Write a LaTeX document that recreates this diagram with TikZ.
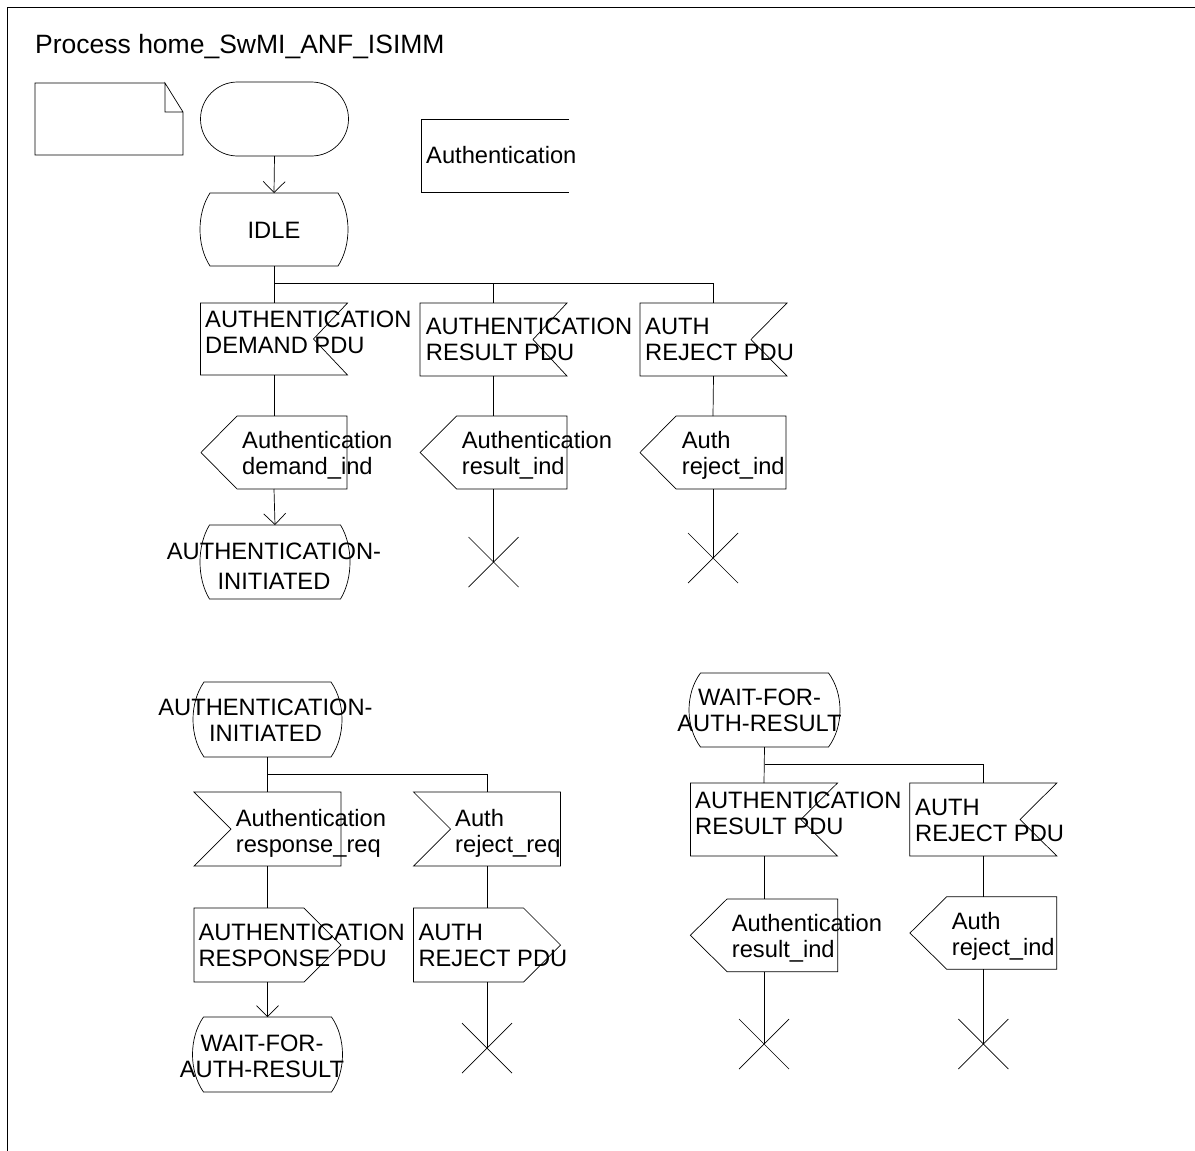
\documentclass[tikz,border=0pt]{standalone}
\usepackage{fontspec}
\setmainfont{Liberation Sans}
\usetikzlibrary{arrows.meta,calc}
\newcommand\sdlinR[2]{\draw[shp] (#1.north west) -- (#1.north east) -- ([xshift=-#2pt]#1.east) -- (#1.south east) -- (#1.south west) -- cycle;}
\newcommand\sdlinL[2]{\draw[shp] (#1.north east) -- (#1.north west) -- ([xshift=#2pt]#1.west) -- (#1.south west) -- (#1.south east) -- cycle;}
\newcommand\sdloutL[2]{\draw[shp] (#1.west) -- ([xshift=#2pt]#1.north west) -- (#1.north east) -- (#1.south east) -- ([xshift=#2pt]#1.south west) -- cycle;}
\newcommand\sdloutR[2]{\draw[shp] (#1.east) -- ([xshift=-#2pt]#1.north east) -- (#1.north west) -- (#1.south west) -- ([xshift=-#2pt]#1.south east) -- cycle;}
\newcommand\sdlstate[2]{\draw[shp] ([xshift=#2pt]#1.north west) -- ([xshift=-#2pt]#1.north east)
  .. controls ($(#1.north east)!0.28!(#1.south east)+(#2/3,0)$) and ($(#1.north east)!0.72!(#1.south east)+(#2/3,0)$) .. ([xshift=-#2pt]#1.south east)
  -- ([xshift=#2pt]#1.south west)
  .. controls ($(#1.north west)!0.72!(#1.south west)+(-#2/3,0)$) and ($(#1.north west)!0.28!(#1.south west)+(-#2/3,0)$) .. cycle;}
\newcommand\sdlstop[1]{\draw[shp] ([xshift=-25pt,yshift=25pt]#1) -- ([xshift=25pt,yshift=-25pt]#1) ([xshift=-25pt,yshift=-25pt]#1) -- ([xshift=25pt,yshift=25pt]#1);}
\begin{document}
\begin{tikzpicture}[x=1pt,y=-1pt,
  shp/.style={draw=black, line width=0.7pt},
  ln/.style={draw=black, line width=0.7pt},
  arr/.style={ln, -{Straight Barb[length=11pt,width=22pt]}},
  bx/.style={inner sep=0pt, outer sep=0pt},
  lbl/.style={font=\fontsize{23.7}{26}\selectfont, inner sep=0pt, align=left, anchor=west},
  slbl/.style={font=\fontsize{23.7}{26}\selectfont, inner sep=0pt, align=center, anchor=center}]
\useasboundingbox (0,0) rectangle (1195,1151);
% frame
\draw[line width=1.5pt] (1195,7.5) -- (7.5,7.5) -- (7.5,1151);
\node[lbl, font=\fontsize{26.5}{30}\selectfont] (title) at (35,47.5) {Process home\_SwMI\_ANF\_ISIMM\strut};
% comment symbol
\draw[shp] (165,83) -- (35,83) -- (35,155) -- (183,155) -- (183,112) -- (165,83) -- (165,112) -- (183,112);
% start
\node[bx, shp, minimum width=148, minimum height=74, rounded corners=37pt] (start) at (274.5,119) {};
% text extension box
\draw[shp] (569,119) -- (421,119) -- (421,192) -- (569,192);
\node[lbl] (authlbl) at (426,158.5) {Authentication\strut};
% IDLE
\node[bx, minimum width=148, minimum height=73] (idle) at (274,229.5) {};
\sdlstate{idle}{10}
\node[slbl] (idlelbl) at (274,233) {IDLE\strut};
\draw[arr] (start.south) -- (idle.north);
% top inputs
\node[bx, minimum width=147, minimum height=72] (in1) at (274,339) {};
\sdlinR{in1}{34}
\node[lbl] (in1lbl) at (205,335.5) {AUTHENTICATION\strut\\DEMAND PDU\strut};
\node[bx, minimum width=147, minimum height=73] (in2) at (493.5,339.5) {};
\sdlinR{in2}{34}
\node[lbl] (in2lbl) at (425.7,342) {AUTHENTICATION\strut\\RESULT PDU\strut};
\node[bx, minimum width=147, minimum height=73] (in3) at (713.5,339.5) {};
\sdlinR{in3}{36}
\node[lbl] (in3lbl) at (645,342.7) {AUTH\strut\\REJECT PDU\strut};
\coordinate (j1) at (274,283);
\draw[ln] (idle.south) -- (in1.north);
\draw[ln] (j1) -| (in2.north);
\draw[ln] (j1) -| (in3.north);
% top outputs
\node[bx, minimum width=146, minimum height=73] (out1) at (274,452.5) {};
\sdloutL{out1}{36}
\node[lbl] (out1lbl) at (242,456) {Authentication\strut\\demand\_ind\strut};
\node[bx, minimum width=147, minimum height=73] (out2) at (493.5,452.5) {};
\sdloutL{out2}{36.7}
\node[lbl] (out2lbl) at (461.7,456) {Authentication\strut\\result\_ind\strut};
\node[bx, minimum width=146, minimum height=73] (out3) at (713,452.5) {};
\sdloutL{out3}{36}
\node[lbl] (out3lbl) at (681.7,456) {Auth\strut\\reject\_ind\strut};
\draw[ln] (in1.south) -- (out1.north);
\draw[ln] (in2.south) -- (out2.north);
\draw[ln] (in3.south) -- (out3.north);
% state AUTHENTICATION-INITIATED (top)
\node[bx, minimum width=150, minimum height=74] (ai1) at (275,562) {};
\sdlstate{ai1}{9.5}
\node[slbl] (ai1lbl) at (274,569) {AUTHENTICATION-\strut\\[4pt]INITIATED\strut};
\draw[arr] (out1.south) -- (ai1.north);
% stops top
\coordinate (x1) at (493.5,562);
\coordinate (x2) at (713,558);
\draw[ln] (out2.south) -- (x1);
\draw[ln] (out3.south) -- (x2);
\sdlstop{x1}
\sdlstop{x2}
% ---------- lower left
\node[bx, minimum width=149, minimum height=75] (ai2) at (267.5,719.5) {};
\sdlstate{ai2}{11}
\node[slbl] (ai2lbl) at (265.5,723.3) {AUTHENTICATION-\strut\\INITIATED\strut};
\node[bx, minimum width=147, minimum height=74] (in4) at (267.5,829) {};
\sdlinL{in4}{37}
\node[lbl] (in4lbl) at (235.7,834.5) {Authentication\strut\\response\_req\strut};
\node[bx, minimum width=147, minimum height=74] (in5) at (487,829) {};
\sdlinL{in5}{37}
\node[lbl] (in5lbl) at (455,834.5) {Auth\strut\\reject\_req\strut};
\coordinate (j2) at (267.5,774);
\draw[ln] (ai2.south) -- (in4.north);
\draw[ln] (j2) -| (in5.north);
\node[bx, minimum width=147, minimum height=74] (out4) at (267.5,945) {};
\sdloutR{out4}{37}
\node[lbl] (out4lbl) at (198.3,948.5) {AUTHENTICATION\strut\\RESPONSE PDU\strut};
\node[bx, minimum width=147, minimum height=74] (out5) at (487,945) {};
\sdloutR{out5}{37}
\node[lbl] (out5lbl) at (418.3,948.5) {AUTH\strut\\REJECT PDU\strut};
\draw[ln] (in4.south) -- (out4.north);
\draw[ln] (in5.south) -- (out5.north);
\node[bx, minimum width=150, minimum height=75] (wait1) at (267.5,1054.5) {};
\sdlstate{wait1}{11}
\node[slbl] (wait1lbl) at (262,1059.5) {WAIT-FOR-\strut\\AUTH-RESULT\strut};
\draw[arr] (out4.south) -- (wait1.north);
\coordinate (x3) at (487,1048);
\draw[ln] (out5.south) -- (x3);
\sdlstop{x3}
% ---------- lower right
\node[bx, minimum width=151, minimum height=74] (wait2) at (764.5,710) {};
\sdlstate{wait2}{11.5}
\node[slbl] (wait2lbl) at (759.5,713) {WAIT-FOR-\strut\\AUTH-RESULT\strut};
\node[bx, minimum width=147, minimum height=73] (in6) at (764,819.5) {};
\sdlinR{in6}{36.7}
\node[lbl] (in6lbl) at (695,816.7) {AUTHENTICATION\strut\\RESULT PDU\strut};
\node[bx, minimum width=147, minimum height=73] (in7) at (983.3,819.5) {};
\sdlinR{in7}{36.7}
\node[lbl] (in7lbl) at (915,823.3) {AUTH\strut\\REJECT PDU\strut};
\coordinate (j3) at (764.5,764.3);
\draw[ln] (wait2.south) -- (in6.north);
\draw[ln] (j3) -| (in7.north);
\node[bx, minimum width=147.3, minimum height=72.7] (out6) at (764,935.3) {};
\sdloutL{out6}{36.7}
\node[lbl] (out6lbl) at (731.7,939.3) {Authentication\strut\\result\_ind\strut};
\node[bx, minimum width=146.7, minimum height=72.4] (out7) at (983.3,933) {};
\sdloutL{out7}{36.7}
\node[lbl] (out7lbl) at (951.7,937.2) {Auth\strut\\reject\_ind\strut};
\draw[ln] (in6.south) -- (out6.north);
\draw[ln] (in7.south) -- (out7.north);
\coordinate (x4) at (764,1044);
\coordinate (x5) at (983.3,1044);
\draw[ln] (out6.south) -- (x4);
\draw[ln] (out7.south) -- (x5);
\sdlstop{x4}
\sdlstop{x5}
\end{tikzpicture}
\end{document}
